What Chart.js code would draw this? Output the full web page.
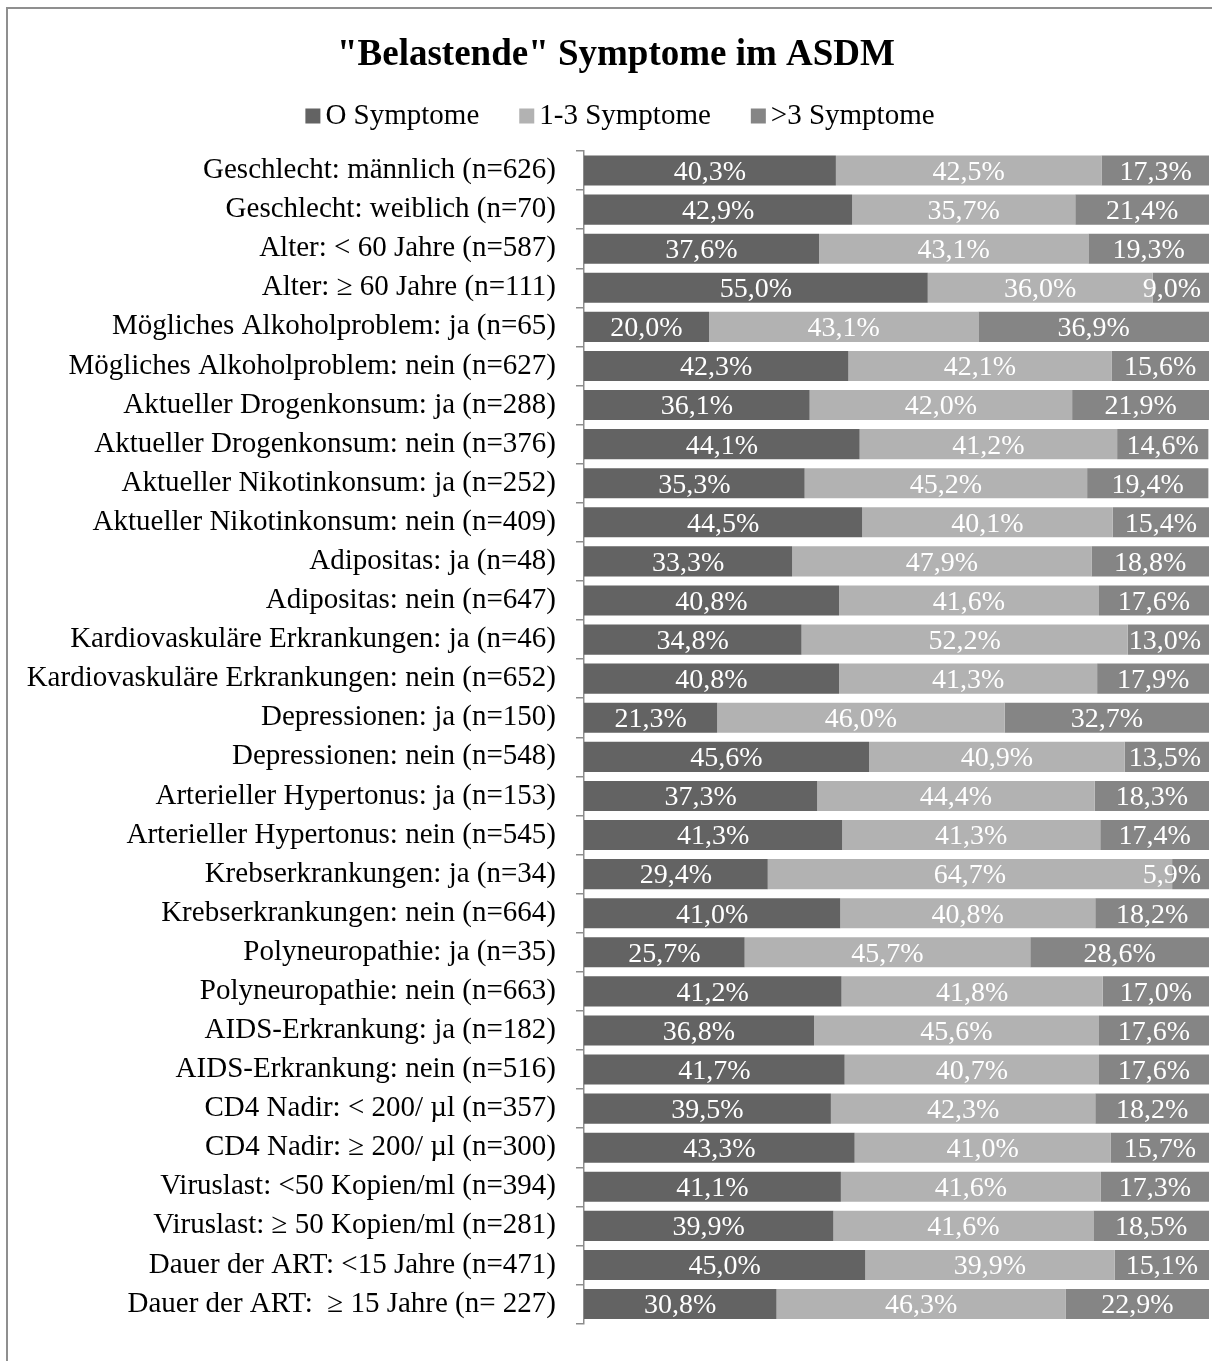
<!DOCTYPE html>
<html>
<head>
<meta charset="utf-8">
<script src="https://cdn.jsdelivr.net/npm/chart.js@4"></script>
<style>
  html, body { margin: 0; padding: 0; background: #fff; overflow: hidden; }
  #wrap { position: relative; width: 1212px; height: 1361px; }
  #frame { position: absolute; left: 6px; top: 7px; width: 1300px; height: 1400px;
           border-left: 2px solid #8f8f8f; border-top: 2px solid #8f8f8f; pointer-events: none; }
</style>
</head>
<body>
<div id="wrap">
  <canvas id="c"></canvas>
  <div id="frame"></div>
</div>
<script>
const title = '"Belastende" Symptome im ASDM';
const seriesNames = ['O Symptome', '1-3 Symptome', '>3 Symptome'];
const categories = [
  'Geschlecht: männlich (n=626)',
  'Geschlecht: weiblich (n=70)',
  'Alter: < 60 Jahre (n=587)',
  'Alter: ≥ 60 Jahre (n=111)',
  'Mögliches Alkoholproblem: ja (n=65)',
  'Mögliches Alkoholproblem: nein (n=627)',
  'Aktueller Drogenkonsum: ja (n=288)',
  'Aktueller Drogenkonsum: nein (n=376)',
  'Aktueller Nikotinkonsum: ja (n=252)',
  'Aktueller Nikotinkonsum: nein (n=409)',
  'Adipositas: ja (n=48)',
  'Adipositas: nein (n=647)',
  'Kardiovaskuläre Erkrankungen: ja (n=46)',
  'Kardiovaskuläre Erkrankungen: nein (n=652)',
  'Depressionen: ja (n=150)',
  'Depressionen: nein (n=548)',
  'Arterieller Hypertonus: ja (n=153)',
  'Arterieller Hypertonus: nein (n=545)',
  'Krebserkrankungen: ja (n=34)',
  'Krebserkrankungen: nein (n=664)',
  'Polyneuropathie: ja (n=35)',
  'Polyneuropathie: nein (n=663)',
  'AIDS-Erkrankung: ja (n=182)',
  'AIDS-Erkrankung: nein (n=516)',
  'CD4 Nadir: < 200/ µl (n=357)',
  'CD4 Nadir: ≥ 200/ µl (n=300)',
  'Viruslast: <50 Kopien/ml (n=394)',
  'Viruslast: ≥ 50 Kopien/ml (n=281)',
  'Dauer der ART: <15 Jahre (n=471)',
  'Dauer der ART:  ≥ 15 Jahre (n= 227)'
];
const zeroSymptoms = [40.3, 42.9, 37.6, 55.0, 20.0, 42.3, 36.1, 44.1, 35.3, 44.5,
                      33.3, 40.8, 34.8, 40.8, 21.3, 45.6, 37.3, 41.3, 29.4, 41.0,
                      25.7, 41.2, 36.8, 41.7, 39.5, 43.3, 41.1, 39.9, 45.0, 30.8];
const oneToThree = [42.5, 35.7, 43.1, 36.0, 43.1, 42.1, 42.0, 41.2, 45.2, 40.1,
                    47.9, 41.6, 52.2, 41.3, 46.0, 40.9, 44.4, 41.3, 64.7, 40.8,
                    45.7, 41.8, 45.6, 40.7, 42.3, 41.0, 41.6, 41.6, 39.9, 46.3];
const moreThanThree = [17.3, 21.4, 19.3, 9.0, 36.9, 15.6, 21.9, 14.6, 19.4, 15.4,
                       18.8, 17.6, 13.0, 17.9, 32.7, 13.5, 18.3, 17.4, 5.9, 18.2,
                       28.6, 17.0, 17.6, 17.6, 18.2, 15.7, 17.3, 18.5, 15.1, 22.9];
const colors = ['#636363', '#b2b2b2', '#858585'];

const FONT = "'Liberation Serif', 'Times New Roman', serif";

// Data labels centred in each segment, kept inside the plot area
const valueLabels = {
  id: 'valueLabels',
  afterDatasetsDraw(chart) {
    const ctx = chart.ctx;
    const right = chart.chartArea.right - 8;
    ctx.save();
    ctx.font = '28px ' + FONT;
    ctx.fillStyle = '#ffffff';
    ctx.textAlign = 'center';
    ctx.textBaseline = 'middle';
    chart.data.datasets.forEach((ds, di) => {
      const meta = chart.getDatasetMeta(di);
      meta.data.forEach((bar, i) => {
        const txt = ds.data[i].toFixed(1).replace('.', ',') + '%';
        const w = ctx.measureText(txt).width;
        let cx = (bar.x + bar.base) / 2;
        if (cx + w / 2 > right) cx = right - w / 2;
        ctx.fillText(txt, cx, bar.y + 2);
      });
    });
    ctx.restore();
  }
};

// Title and legend drawn in Excel style
const header = {
  id: 'header',
  afterDraw(chart) {
    const ctx = chart.ctx;
    ctx.save();
    ctx.fillStyle = '#000';
    ctx.textBaseline = 'middle';
    ctx.textAlign = 'center';
    ctx.font = 'bold 37px ' + FONT;
    ctx.fillText(title, 616, 55);

    ctx.font = '29px ' + FONT;
    ctx.textAlign = 'left';
    const box = 15, gapBoxText = 5, gapItems = 40;
    const items = chart.data.datasets.map(d => ({ label: d.label, color: d.backgroundColor, w: ctx.measureText(d.label).width }));
    let total = 0;
    items.forEach((it, i) => { total += box + gapBoxText + it.w + (i < items.length - 1 ? gapItems : 0); });
    let x = 620 - total / 2;
    const y = 116;
    items.forEach(it => {
      ctx.fillStyle = it.color;
      ctx.fillRect(x, y - box / 2, box, box);
      ctx.fillStyle = '#000';
      ctx.fillText(it.label, x + box + gapBoxText, y);
      x += box + gapBoxText + it.w + gapItems;
    });
    ctx.restore();
  }
};

new Chart(document.getElementById('c'), {
  type: 'bar',
  data: {
    labels: categories,
    datasets: [
      { label: seriesNames[0], data: zeroSymptoms, backgroundColor: colors[0] },
      { label: seriesNames[1], data: oneToThree, backgroundColor: colors[1] },
      { label: seriesNames[2], data: moreThanThree, backgroundColor: colors[2] }
    ]
  },
  options: {
    indexAxis: 'y',
    responsive: true,
    maintainAspectRatio: false,
    animation: false,
    datasets: { bar: { barPercentage: 0.77, categoryPercentage: 1.0, borderWidth: 0 } },
    layout: { padding: { top: 151, right: 3, bottom: 34, left: 0 } },
    scales: {
      x: { stacked: true, min: 0, max: 100, display: false },
      y: {
        stacked: true,
        afterFit(scale) { scale.width = 584; },
        ticks: { font: { family: FONT, size: 29 }, color: '#000', padding: 20, autoSkip: false },
        grid: { drawOnChartArea: false, color: '#8c8c8c', tickLength: 8, lineWidth: 1.5, offset: true },
        border: { color: '#8c8c8c', width: 1.5 }
      }
    },
    plugins: {
      title: { display: false },
      legend: { display: false },
      tooltip: { enabled: false }
    }
  },
  plugins: [valueLabels, header]
});
</script>
</body>
</html>
